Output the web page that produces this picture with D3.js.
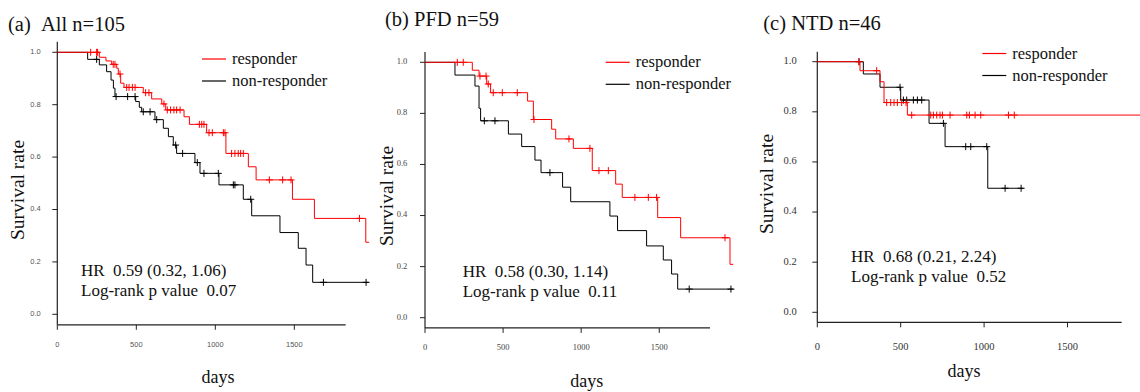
<!DOCTYPE html>
<html>
<head>
<meta charset="utf-8">
<script src="https://cdn.jsdelivr.net/npm/d3@7"></script>
<style>
  body { margin: 0; background: #fff; }
  svg { display: block; }
</style>
</head>
<body>
<div id="chart"></div>
<script>
// ---- data (days, survival after each event, censored times) ----
const tickDays = [0, 500, 1000, 1500];
const tickRates = [0, 0.2, 0.4, 0.6, 0.8, 1.0];
const groups = ['responder', 'non-responder'];

// (a) All
const allRespTimes = [266, 308, 344, 376, 386, 401, 422, 544, 597, 661, 686, 802, 836, 945, 1067, 1209, 1258, 1488, 1627, 1952];
const allRespSurv  = [0.981, 0.967, 0.954, 0.939, 0.917, 0.882, 0.866, 0.846, 0.822, 0.803, 0.780, 0.754, 0.725, 0.693, 0.614, 0.563, 0.513, 0.439, 0.366, 0.275];
const allRespCens  = [211, 249, 255, 354, 365, 397, 439, 454, 475, 492, 559, 580, 675, 696, 717, 738, 755, 777, 899, 914, 928, 960, 981, 1051, 1061, 1103, 1124, 1145, 1160, 1177, 1342, 1426, 1479, 1912];
const allRespEnd = 1973;
const allNonTimes = [192, 266, 312, 340, 355, 365, 496, 519, 534, 618, 671, 703, 734, 755, 871, 903, 1023, 1177, 1230, 1409, 1525, 1574, 1616];
const allNonSurv  = [0.973, 0.952, 0.926, 0.894, 0.863, 0.831, 0.812, 0.790, 0.773, 0.743, 0.710, 0.678, 0.646, 0.614, 0.579, 0.538, 0.494, 0.439, 0.376, 0.312, 0.252, 0.188, 0.122];
const allNonCens  = [249, 372, 445, 492, 544, 587, 629, 749, 793, 886, 928, 1019, 1114, 1124, 1224, 1684, 1954];
const allNonEnd = 1969;

// (b) PFD
const pfdRespTimes = [303, 346, 395, 420, 657, 694, 811, 837, 950, 1071, 1221, 1263, 1490, 1637, 1953];
const pfdRespSurv  = [0.969, 0.946, 0.915, 0.881, 0.848, 0.776, 0.738, 0.700, 0.663, 0.576, 0.523, 0.471, 0.392, 0.313, 0.209];
const pfdRespCens  = [207, 245, 352, 391, 405, 437, 495, 591, 698, 922, 1056, 1114, 1174, 1344, 1430, 1483, 1921];
const pfdRespEnd = 1974;
const pfdNonTimes = [192, 320, 346, 356, 534, 619, 704, 743, 881, 933, 1184, 1233, 1419, 1526, 1579, 1618];
const pfdNonSurv  = [0.950, 0.907, 0.820, 0.771, 0.719, 0.670, 0.617, 0.568, 0.511, 0.454, 0.398, 0.341, 0.281, 0.226, 0.171, 0.112];
const pfdNonCens  = [380, 448, 800, 1692, 1959];
const pfdNonEnd = 1974;

// (c) NTD
const ntdRespTimes = [256, 376, 400, 540];
const ntdRespSurv  = [0.964, 0.920, 0.837, 0.787];
const ntdRespCens  = [250, 356, 416, 440, 460, 480, 506, 532, 566, 680, 696, 716, 736, 750, 796, 896, 912, 946, 980, 1146, 1181];
const ntdRespEnd = 1940;
const ntdNonTimes = [276, 376, 500, 670, 766, 1022];
const ntdNonSurv  = [0.951, 0.898, 0.847, 0.754, 0.661, 0.495];
const ntdNonCens  = [250, 496, 516, 536, 576, 600, 626, 756, 890, 920, 1016, 1126, 1222];
const ntdNonEnd = 1236;

const titles = ['(a)\u00a0\u00a0All n=105', '(b) PFD n=59', '(c) NTD n=46'];
const hrTexts = ['HR\u00a0\u00a00.59 (0.32, 1.06)', 'HR\u00a0\u00a00.58 (0.30, 1.14)', 'HR\u00a0\u00a00.68 (0.21, 2.24)'];
const pTexts = ['Log-rank p value\u00a0\u00a00.07', 'Log-rank p value\u00a0\u00a00.11', 'Log-rank p value\u00a0\u00a00.52'];

// ---- layout ----
const width = 1140, height = 392;
const serif = '"Liberation Serif", "Times New Roman", serif';
const sans = '"Liberation Sans", Arial, sans-serif';
const colors = { responder: '#ff0000', 'non-responder': '#000000' };

const panels = [
  {
    x: [57.3, 345.7], y: [314.3, 52.3], tickFont: sans, tickSize: 7.5, tickColor: '#555',
    yLabelGap: 16.6, xLabelY: 347, title: [8, 30.5],
    legend: [202, 59], hr: [81, 276], ylab: [17.7, 190], days: [218, 383],
    series: [
      { times: allRespTimes, surv: allRespSurv, cens: allRespCens, end: allRespEnd, group: 'responder' },
      { times: allNonTimes, surv: allNonSurv, cens: allNonCens, end: allNonEnd, group: 'non-responder' }
    ]
  },
  {
    x: [425, 710], y: [317.7, 62.3], tickFont: serif, tickSize: 8.5, tickColor: '#444',
    yLabelGap: 17.7, xLabelY: 349.5, title: [385, 26],
    legend: [605.7, 62.3], hr: [462.7, 277], ylab: [386.7, 196], days: [586.7, 387],
    series: [
      { times: pfdRespTimes, surv: pfdRespSurv, cens: pfdRespCens, end: pfdRespEnd, group: 'responder' },
      { times: pfdNonTimes, surv: pfdNonSurv, cens: pfdNonCens, end: pfdNonEnd, group: 'non-responder' }
    ]
  },
  {
    x: [817.3, 1121.7], y: [312.3, 61.7], tickFont: serif, tickSize: 10.5, tickColor: '#333',
    yLabelGap: 20.6, xLabelY: 349.5, title: [763.3, 29.5],
    legend: [982.3, 53.5], hr: [851, 261.5], ylab: [767, 184], days: [964, 377],
    series: [
      { times: ntdRespTimes, surv: ntdRespSurv, cens: ntdRespCens, end: ntdRespEnd, group: 'responder' },
      { times: ntdNonTimes, surv: ntdNonSurv, cens: ntdNonCens, end: ntdNonEnd, group: 'non-responder' }
    ]
  }
];

const svg = d3.select('#chart')
  .append('svg')
  .attr('width', width)
  .attr('height', height);

panels.forEach((p, i) => drawPanel(p, i));

function drawPanel(p, i) {
  const xScale = d3.scaleLinear().domain([0, 1825]).range(p.x);
  const yScale = d3.scaleLinear().domain([0, 1]).range(p.y);
  const g = svg.append('g').attr('class', `panel-${i}`);

  // L-shaped axes, R style (4% padding on y)
  const yTop = yScale(1.04), yBot = yScale(-0.04);
  g.append('line')
    .attr('x1', xScale(0)).attr('x2', xScale(0))
    .attr('y1', yTop).attr('y2', yBot)
    .attr('stroke', '#222').attr('stroke-width', 1.2);
  g.append('line')
    .attr('x1', xScale(0)).attr('x2', xScale(1825))
    .attr('y1', yBot).attr('y2', yBot)
    .attr('stroke', '#222').attr('stroke-width', 1.2);

  // y ticks
  g.selectAll('.ytick')
    .data(tickRates)
    .join('line')
    .attr('x1', xScale(0) - 5).attr('x2', xScale(0))
    .attr('y1', (d) => yScale(d)).attr('y2', (d) => yScale(d))
    .attr('stroke', '#222').attr('stroke-width', 1);
  g.selectAll('.ylabel')
    .data(tickRates)
    .join('text')
    .attr('x', xScale(0) - p.yLabelGap)
    .attr('y', (d) => yScale(d))
    .attr('dominant-baseline', 'middle')
    .attr('text-anchor', 'end')
    .attr('font-family', p.tickFont)
    .attr('font-size', p.tickSize)
    .attr('fill', p.tickColor)
    .text((d) => d3.format('.1f')(d));

  // x ticks
  g.selectAll('.xtick')
    .data(tickDays)
    .join('line')
    .attr('x1', (d) => xScale(d)).attr('x2', (d) => xScale(d))
    .attr('y1', yBot).attr('y2', yBot + 5)
    .attr('stroke', '#222').attr('stroke-width', 1);
  g.selectAll('.xlabel')
    .data(tickDays)
    .join('text')
    .attr('x', (d) => xScale(d))
    .attr('y', p.xLabelY)
    .attr('text-anchor', 'middle')
    .attr('font-family', p.tickFont)
    .attr('font-size', p.tickSize)
    .attr('fill', p.tickColor)
    .text((d) => d);

  // curves
  const line = d3.line()
    .x((d) => xScale(d[0]))
    .y((d) => yScale(d[1]))
    .curve(d3.curveStepAfter);

  // draw non-responder first so red sits on top
  p.series.slice().reverse().forEach((s) => {
    const pts = [[0, 1]];
    s.times.forEach((t, k) => pts.push([t, s.surv[k]]));
    pts.push([s.end, s.surv[s.surv.length - 1]]);

    g.append('path')
      .attr('d', line(pts))
      .attr('fill', 'none')
      .attr('stroke', colors[s.group])
      .attr('stroke-width', 1);

    const survAt = (t) => {
      const k = d3.bisectRight(s.times, t);
      return k === 0 ? 1 : s.surv[k - 1];
    };

    const marks = g.append('g').attr('stroke', colors[s.group]).attr('stroke-width', 1);
    s.cens.forEach((t) => {
      const cx = xScale(t), cy = yScale(survAt(t));
      marks.append('line')
        .attr('x1', cx).attr('x2', cx)
        .attr('y1', cy - 3.5).attr('y2', cy + 3.5);
      marks.append('line')
        .attr('x1', cx - 3.5).attr('x2', cx + 3.5)
        .attr('y1', cy).attr('y2', cy);
    });
  });

  // title
  g.append('text')
    .attr('x', p.title[0]).attr('y', p.title[1])
    .attr('font-family', serif).attr('font-size', 20.5)
    .attr('fill', '#111')
    .text(titles[i]);

  // legend
  groups.forEach((name, k) => {
    const ly = p.legend[1] + k * 22;
    g.append('line')
      .attr('x1', p.legend[0]).attr('x2', p.legend[0] + 24)
      .attr('y1', ly).attr('y2', ly)
      .attr('stroke', colors[name]).attr('stroke-width', 1.2);
    g.append('text')
      .attr('x', p.legend[0] + 30).attr('y', ly + 5)
      .attr('font-family', serif).attr('font-size', 16.5)
      .attr('fill', '#111')
      .text(name);
  });

  // stats
  g.append('text')
    .attr('x', p.hr[0]).attr('y', p.hr[1])
    .attr('font-family', serif).attr('font-size', 17)
    .attr('fill', '#111')
    .text(hrTexts[i]);
  g.append('text')
    .attr('x', p.hr[0]).attr('y', p.hr[1] + 20)
    .attr('font-family', serif).attr('font-size', 17)
    .attr('fill', '#111')
    .text(pTexts[i]);

  // axis titles
  g.append('text')
    .attr('transform', `translate(${p.ylab[0] + 6}, ${p.ylab[1]}) rotate(-90)`)
    .attr('text-anchor', 'middle')
    .attr('font-family', serif).attr('font-size', 19.5)
    .attr('fill', '#111')
    .text('Survival rate');
  g.append('text')
    .attr('x', p.days[0]).attr('y', p.days[1])
    .attr('text-anchor', 'middle')
    .attr('font-family', serif).attr('font-size', 18)
    .attr('fill', '#111')
    .text('days');
}
</script>
</body>
</html>
